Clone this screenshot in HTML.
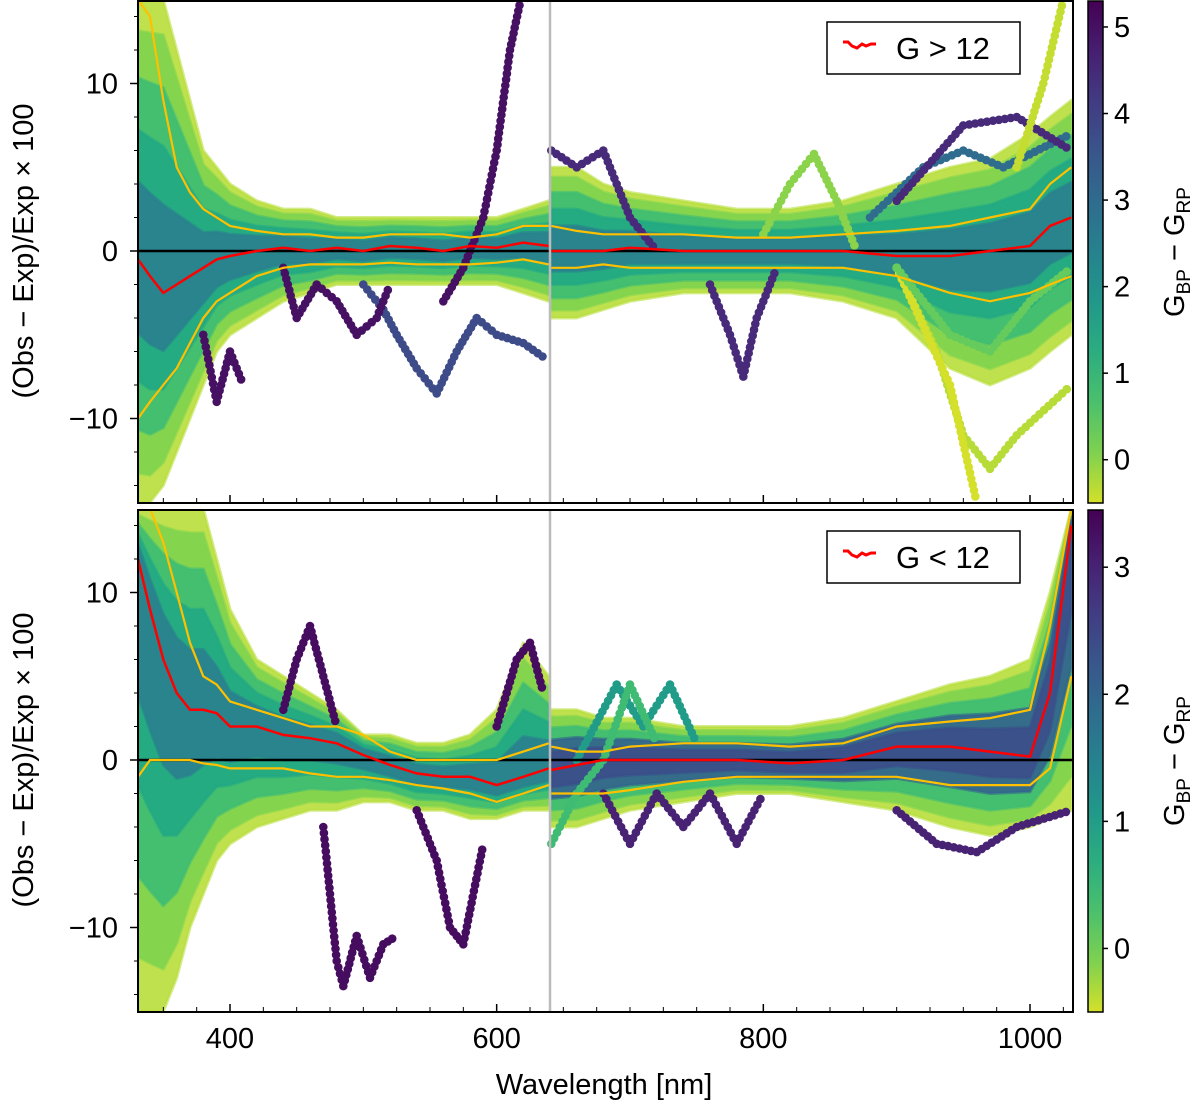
<!DOCTYPE html>
<html><head><meta charset="utf-8"><style>
body{margin:0;background:#fff;}
svg text{font-family:"Liberation Sans",sans-serif;fill:#000;}
</style></head><body>
<svg id="chart" width="1200" height="1109" viewBox="0 0 1200 1109" xmlns="http://www.w3.org/2000/svg">
<defs>
<clipPath id="clipTop"><rect x="138" y="1" width="935" height="502"/></clipPath>
<clipPath id="clipBot"><rect x="138" y="510" width="935" height="502"/></clipPath>
</defs>
</svg>
<script>
// ---- data ----
const wl = [331,340,350,360,370,380,390,400,420,440,460,480,500,520,540,560,580,600,620,639,641,660,680,700,740,780,820,860,900,940,970,1000,1015,1031];
const splitIdx = 20;
const topMedian = [-0.5,-1.5,-2.5,-2,-1.5,-1,-0.5,-0.3,0,0.2,0,0.2,0,0.3,0.2,0,0.3,0.2,0.5,0.3,0,0,0,0.2,0,0,0,0,-0.3,-0.3,0,0.3,1.5,2];
const topUpper = [15,14,9,5,3.5,2.5,2,1.5,1.2,1,1,0.8,0.8,1,1,1,0.8,1,1.5,1.5,1.5,1.2,1,1,1,0.8,0.8,1,1.2,1.5,2,2.5,4,5];
const topLower = [-10,-9,-8,-7,-5.5,-4,-3,-2.5,-1.5,-1,-0.8,-0.8,-0.8,-0.7,-0.8,-0.8,-0.8,-0.7,-0.5,-0.8,-1,-1,-0.8,-1,-1,-1,-1,-1,-1.5,-2.5,-3,-2.5,-2,-1.5];
const topEnvHi = [15,15,15,12,9,6,5,4,3,2.5,2.5,2,2,2,2,2,2,2,2.5,3,5,5,4,3.5,3,2.5,2.5,3,4,5,5.5,7,8,9];
const topEnvLo = [-15,-15,-14,-12,-10,-8,-6,-5,-4,-3,-2.5,-2,-2,-2,-2,-2,-2,-2,-2.5,-3,-4,-4,-3.5,-3,-2.5,-2.5,-2.5,-3,-4,-7,-8,-7,-6,-5];
const botMedian = [12,9,6,4,3,3,2.8,2,2,1.5,1.3,1,0.3,-0.3,-0.8,-1,-1,-1.5,-1,-0.5,-0.6,-0.3,0,0,0,0,-0.2,0,0.8,0.8,0.5,0.2,4,14];
const botUpper = [15,15,13,10,7,5,4.5,3.5,3,2.5,2,2,1.5,0.5,0,0,0,0,0.5,1,0.8,0.5,0.5,0.8,1,1,0.8,1,2,2.3,2.5,3,8,15];
const botLower = [-1,0,0,0,0,-0.2,-0.3,-0.5,-0.5,-0.5,-0.8,-1,-1,-1.2,-1.5,-1.7,-2,-2.5,-2,-1.5,-2,-2,-2,-1.8,-1.3,-1,-1,-1,-1,-1.5,-1.5,-1.5,-0.5,5];
const botEnvHi = [15,15,15,15,15,15,12,9,6,5,4,3,1.5,1.5,1,1,1.5,3,7,5,3,3,2.5,2.5,2,2,2,2.5,3.5,4.5,5,6,10,15];
const botEnvLo = [-15,-15,-15,-13,-10,-8,-6,-5,-4,-3.5,-3,-3,-2.5,-2.5,-3,-3,-3.5,-3.5,-3,-3,-4,-4,-3.5,-3,-2.5,-2,-2,-2.5,-3,-4,-4.5,-4,-3.5,-3];
// outlier curves: [colour value, points [nm, residual]]
const topOutliers = [
 [5.0, [[560,-3],[575,-1],[590,2],[600,6],[610,12],[618,15]]],
 [3.8, [[500,-2],[515,-3.5],[525,-5],[540,-7],[555,-8.5],[570,-6],[585,-4],[600,-5],[620,-5.5],[638,-6.5]]],
 [5.0, [[440,-1],[450,-4],[465,-2],[480,-3],[495,-5],[510,-4],[520,-2]]],
 [5.0, [[380,-5],[390,-9],[400,-6],[410,-8]]],
 [4.5, [[641,6],[660,5],[680,6],[700,2],[720,0]]],
 [4.5, [[760,-2],[775,-5],[785,-7.5],[795,-4],[810,-1]]],
 [3.0, [[880,2],[920,5],[950,6],[980,5],[1031,7]]],
 [4.5, [[900,3],[950,7.5],[990,8],[1031,6]]],
 [0.0, [[800,1],[820,4],[838,5.8],[855,3],[870,0]]],
 [-0.3, [[900,-1],[930,-6],[950,-11],[970,-13],[990,-11],[1031,-8]]],
 [-0.5, [[900,-1],[940,-8],[960,-15]]],
 [0.3, [[900,-1],[940,-5],[970,-6],[1000,-3],[1031,-1]]],
 [-0.4, [[990,5],[1010,10],[1025,15]]]
];
const botOutliers = [
 [3.3, [[440,3],[450,6],[460,8],[470,5],[480,2]]],
 [3.3, [[470,-4],[475,-8],[480,-12],[485,-13.5],[495,-10.5],[505,-13],[515,-11],[525,-10.5]]],
 [3.3, [[540,-3],[555,-6],[565,-10],[575,-11],[590,-5]]],
 [3.3, [[600,2],[615,6],[625,7],[635,4]]],
 [3.0, [[680,-2],[700,-5],[720,-2],[740,-4],[760,-2],[780,-5],[800,-2]]],
 [3.0, [[900,-3],[930,-5],[960,-5.5],[990,-4],[1031,-3]]],
 [1.0, [[660,0],[690,4.5],[710,2],[730,4.5],[750,1]]],
 [0.4, [[641,-5],[660,-2],[680,0],[700,4.5],[720,1]]]
];
const xTicks = [400,600,800,1000];
const yTicks = [-10,0,10];
const cbTopTicks = [0,1,2,3,4,5];
const cbBotTicks = [0,1,2,3];

// ---- scales ----
const NS='http://www.w3.org/2000/svg';
const svg=document.getElementById('chart');
function X(nm){return 230+(nm-400)*(800/600);}
const panels={top:{zero:251,clip:'clipTop',top:1},bot:{zero:760,clip:'clipBot',top:510}};
function Y(p,v){return p.zero-v*16.75;}
function el(tag,attrs,parent){const e=document.createElementNS(NS,tag);for(const k in attrs)e.setAttribute(k,attrs[k]);(parent||svg).appendChild(e);return e;}
const vir=[[0,'#440154'],[0.13,'#482878'],[0.25,'#3e4989'],[0.38,'#31688e'],[0.5,'#26828e'],[0.63,'#1f9e89'],[0.75,'#35b779'],[0.88,'#6ece58'],[1,'#d4e02a']];
function hex(h){return [1,3,5].map(i=>parseInt(h.substr(i,2),16));}
function viridisR(t){t=Math.max(0,Math.min(1,1-t));for(let i=1;i<vir.length;i++){if(t<=vir[i][0]){const a=hex(vir[i-1][1]),b=hex(vir[i][1]);const f=(t-vir[i-1][0])/(vir[i][0]-vir[i-1][0]);return 'rgb('+a.map((c,j)=>Math.round(c+(b[j]-c)*f)).join(',')+')';}}return vir[vir.length-1][1];}

function segPath(p,arr,from,to){let d='';for(let i=from;i<to;i++)d+=(i==from?'M':'L')+X(wl[i]).toFixed(1)+','+Y(p,arr[i]).toFixed(1);return d;}
function bandPath(p,hi,lo,from,to){let d='';for(let i=from;i<to;i++)d+=(i==from?'M':'L')+X(wl[i]).toFixed(1)+','+Y(p,hi[i]).toFixed(1);for(let i=to-1;i>=from;i--)d+='L'+X(wl[i]).toFixed(1)+','+Y(p,lo[i]).toFixed(1);return d+'Z';}

function drawPanel(key,med,up,lo,eHi,eLo,outs,vmin,vmax,rpDark){
  const p=panels[key];
  const g=el('g',{'clip-path':'url(#'+p.clip+')'});
  
  
  const layers=[[1,'#b8de3a',0.9],[0.88,'#7ed34f',0.9],[0.7,'#3dbc74',0.9],[0.5,'#22a884',0.9],[0.3,'#2a808e',0.9]];
  [[0,splitIdx],[splitIdx,wl.length]].forEach((r,ri)=>{
    layers.forEach(([k,c,o],li)=>{
      const hi=med.map((m,i)=>m+k*(eHi[i]-m)), lw=med.map((m,i)=>m+k*(eLo[i]-m));
      let col=c; if(ri==1&&rpDark&&li>=3) col=li==3?'#33638d':'#3b4f8a';
      const b=el('path',{d:bandPath(p,hi,lw,r[0],r[1]),fill:col,'fill-opacity':o,stroke:col,'stroke-width':3,'stroke-linejoin':'round','stroke-opacity':0.6},g);
      
      
    });
  });
  outs.forEach(([v,pts])=>{
    const col=viridisR((v-vmin)/(vmax-vmin));
    for(let j=1;j<pts.length;j++){
      const [a0,b0]=pts[j-1],[a1,b1]=pts[j];
      const dx=X(a1)-X(a0),dy=(b1-b0)*16.75;
      const n=Math.max(2,Math.round(Math.hypot(dx,dy)/6));
      for(let s=0;s<n;s++){const f=s/n;
        const c=el('circle',{cx:X(a0+(a1-a0)*f).toFixed(1),cy:Y(p,b0+(b1-b0)*f).toFixed(1),r:4.3,fill:col},g);
        
        }
    }
  });
  const z=el('line',{x1:138,x2:1073,y1:p.zero,y2:p.zero,stroke:'#000','stroke-width':2.5},g);
  
  
  [[0,splitIdx],[splitIdx,wl.length]].forEach(r=>{
    [up,lo].forEach(a=>{const l=el('path',{d:segPath(p,a,r[0],r[1]),fill:'none',stroke:'#ffc000','stroke-width':2.2},g);
      
      });
    const m=el('path',{d:segPath(p,med,r[0],r[1]),fill:'none',stroke:'#ff0000','stroke-width':2.5},g);
    
    
  });
  const v=el('line',{x1:X(640),x2:X(640),y1:p.top,y2:p.top+502,stroke:'#bbb','stroke-width':2.5});
  
  
  const fr=el('rect',{x:138,y:p.top,width:935,height:502,fill:'none',stroke:'#000','stroke-width':2});
  
  
  yTicks.forEach(t=>{const y=Y(p,t);
    el('line',{x1:138,x2:130,y1:y,y2:y,stroke:'#000','stroke-width':1.5});
    const tx=el('text',{x:118,y:y+10,'text-anchor':'end','font-size':29});
    tx.textContent=(t<0?'\u2212':'')+Math.abs(t);
    
    });
  for(let t=-14;t<=14;t+=2){if(t%10==0)continue;const y=Y(p,t);el('line',{x1:138,x2:134,y1:y,y2:y,stroke:'#000','stroke-width':1});}
  for(let nm=350;nm<=1025;nm+=25){const x=X(nm),big=nm%200==0;
    el('line',{x1:x,x2:x,y1:p.top+502,y2:p.top+502-(big?8:5),stroke:'#000','stroke-width':big?1.5:1});}
  const yl=el('text',{x:0,y:0,'text-anchor':'middle','font-size':29,transform:'translate(33,'+(p.zero)+') rotate(-90)'});
  yl.textContent='(Obs \u2212 Exp)/Exp \u00d7 100';
  
  
}
drawPanel('top',topMedian,topUpper,topLower,topEnvHi,topEnvLo,topOutliers,-0.5,5.3,false);
drawPanel('bot',botMedian,botUpper,botLower,botEnvHi,botEnvLo,botOutliers,-0.5,3.45,true);

xTicks.forEach(t=>{const tx=el('text',{x:X(t),y:1048,'text-anchor':'middle','font-size':29});tx.textContent=t;
  
  });
const xl=el('text',{x:604,y:1094,'text-anchor':'middle','font-size':29});xl.textContent='Wavelength  [nm]';



// legends
[['top',22,'G > 12'],['bot',531,'G < 12']].forEach(([k,y,lab])=>{
  const g=el('g',{});
  
  
  el('rect',{x:827,y:y,width:193,height:52,fill:'#fff',stroke:'#000','stroke-width':1.5},g);
  el('path',{d:'M843,'+(y+20)+' l5,0 l4,4 l5,2 l5,-4 l4,2 l5,-2 l5,0',fill:'none',stroke:'#f00','stroke-width':3},g);
  const t=el('text',{x:896,y:y+37,'font-size':31},g);t.textContent=lab;
  
  
});

// colorbars
[['top',1,-0.5,5.3,cbTopTicks],['bot',510,-0.5,3.45,cbBotTicks]].forEach(([k,y0,mn,mx,ticks])=>{
  const gid='grad'+k;
  const lg=el('linearGradient',{id:gid,x1:0,y1:1,x2:0,y2:0},svg.querySelector('defs'));
  for(let i=0;i<=10;i++)el('stop',{offset:i/10,'stop-color':viridisR(i/10)},lg);
  const r=el('rect',{x:1088,y:y0,width:15,height:502,fill:'url(#'+gid+')',stroke:'#000','stroke-width':1.5});
  
  
  ticks.forEach(t=>{const y=y0+(mx-t)/(mx-mn)*502;
    el('line',{x1:1103,x2:1108,y1:y,y2:y,stroke:'#000','stroke-width':1.5});
    const tx=el('text',{x:1114,y:y+10,'font-size':29});tx.textContent=t;
    
    });
  const cl=el('text',{x:0,y:0,'text-anchor':'middle','font-size':29,transform:'translate(1184,'+(y0+251)+') rotate(-90)'});
  cl.innerHTML='G<tspan font-size="19" dy="6">BP</tspan><tspan dy="-6"> \u2212 G</tspan><tspan font-size="19" dy="6">RP</tspan>';
  
  
});
</script>
</body></html>
